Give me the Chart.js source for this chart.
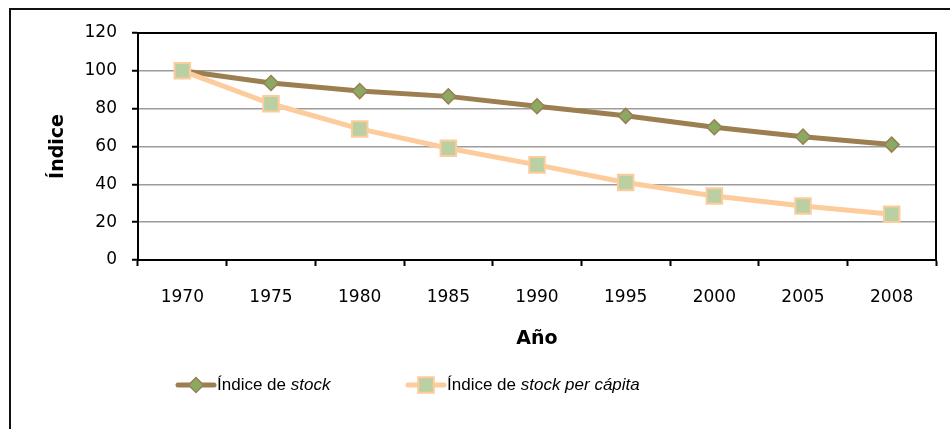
<!DOCTYPE html>
<html>
<head>
<meta charset="utf-8">
<script src="https://cdn.jsdelivr.net/npm/chart.js@4"></script>
<style>
  html, body { margin: 0; padding: 0; background: #fff; }
  #wrap { position: relative; width: 950px; height: 429px; overflow: hidden; }
  #frame { position: absolute; left: 9px; top: 8px; width: 1000px; height: 500px;
           border-left: 2px solid #111; border-top: 2px solid #111; }
  canvas { position: absolute; left: 0; top: 0; }
</style>
</head>
<body>
<div id="wrap">
  <div id="frame"></div>
  <canvas id="grafico" width="950" height="429"></canvas>
</div>
<script>
// años e índices (base 1970 = 100)
var anios = ["1970", "1975", "1980", "1985", "1990", "1995", "2000", "2005", "2008"];
var indiceStock = [100, 93.6, 89.3, 86.5, 81.3, 76.2, 70.2, 65.2, 61];
var indiceStockPerCapita = [100, 82.6, 69.3, 59.1, 50.3, 41, 33.8, 28.5, 24.2];
var ticksY = [0, 20, 40, 60, 80, 100, 120];

// textos de la leyenda: [texto, cursiva]
var leyendaStock = [["Índice de ", false], ["stock", true]];
var leyendaPerCapita = [["Índice de ", false], ["stock per cápita", true]];

var marron = "#9b7f51";
var verde = "#8aa963";
var melocoton = "#fdcc9c";
var verdeClaro = "#bbd0a2";
var fuenteEjes = "'DejaVu Sans', Verdana, sans-serif";

// borde negro arriba y a la derecha del área de trazado
var bordeArea = {
    id: "bordeArea",
    beforeDatasetsDraw: function (chart) {
        var a = chart.chartArea;
        var ctx = chart.ctx;
        ctx.save();
        ctx.strokeStyle = "#000";
        ctx.lineWidth = 2;
        ctx.beginPath();
        ctx.moveTo(a.left, a.top);
        ctx.lineTo(a.right, a.top);
        ctx.lineTo(a.right, a.bottom);
        ctx.stroke();
        ctx.restore();
    }
};

// leyenda con partes en cursiva
var leyenda = {
    id: "leyenda",
    afterDraw: function (chart) {
        var ctx = chart.ctx;
        var items = [leyendaStock, leyendaPerCapita];
        var inicios = [178, 408];
        var y = 385;
        ctx.save();
        items.forEach(function (partes, i) {
            var ds = chart.data.datasets[i];
            var x = inicios[i];
            ctx.strokeStyle = ds.borderColor;
            ctx.lineWidth = 5;
            ctx.lineCap = "round";
            ctx.beginPath();
            ctx.moveTo(x, y);
            ctx.lineTo(x + 36, y);
            ctx.stroke();
            ctx.fillStyle = ds.pointBackgroundColor;
            ctx.strokeStyle = ds.pointBorderColor;
            ctx.lineWidth = ds.pointBorderWidth;
            Chart.helpers.drawPoint(ctx, { pointStyle: ds.pointStyle, radius: ds.pointRadius, borderWidth: ds.pointBorderWidth }, x + 18, y);
            var tx = x + 39;
            ctx.fillStyle = "#000";
            ctx.textBaseline = "middle";
            partes.forEach(function (p) {
                ctx.font = (p[1] ? "italic " : "") + "17px 'Liberation Sans', Arial, sans-serif";
                ctx.fillText(p[0], tx, y);
                tx += ctx.measureText(p[0]).width;
            });
        });
        ctx.restore();
    }
};

var ctx = document.getElementById("grafico").getContext("2d");
var grafico = new Chart(ctx, {
    type: "line",
    data: {
        labels: anios,
        datasets: [{
            label: "Índice de stock",
            data: indiceStock,
            order: 1,
            borderColor: marron,
            borderWidth: 5,
            pointStyle: "rectRot",
            pointRadius: 7.5,
            pointBackgroundColor: verde,
            pointBorderColor: marron,
            pointBorderWidth: 1.5,
            tension: 0
        }, {
            label: "Índice de stock per cápita",
            data: indiceStockPerCapita,
            order: 0,
            borderColor: melocoton,
            borderWidth: 5,
            pointStyle: "rect",
            pointRadius: 11,
            pointBackgroundColor: verdeClaro,
            pointBorderColor: melocoton,
            pointBorderWidth: 2,
            tension: 0
        }]
    },
    options: {
        responsive: false,
        animation: false,
        layout: { padding: { top: 33, right: 14, bottom: 69, left: 0 } },
        plugins: {
            legend: { display: false },
            tooltip: { enabled: false }
        },
        scales: {
            x: {
                offset: true,
                grid: { offset: true, drawOnChartArea: false, tickLength: 6, tickColor: "#000", tickWidth: 2 },
                border: { color: "#000", width: 2 },
                ticks: { color: "#000", padding: 21, maxRotation: 0, font: { family: fuenteEjes, size: 17 } },
                title: { display: true, text: "Año", color: "#000", padding: { bottom: 10 },
                         font: { family: fuenteEjes, size: 19, weight: "bold" } },
                afterFit: function (s) { s.height = 100; }
            },
            y: {
                min: 0,
                max: 120,
                afterBuildTicks: function (s) { s.ticks = ticksY.map(function (v) { return { value: v }; }); },
                grid: { color: "#9c9c9c", lineWidth: 1.5, tickLength: 6, tickColor: "#000", tickWidth: 2 },
                border: { color: "#000", width: 2 },
                ticks: { color: "#000", padding: 15, font: { family: fuenteEjes, size: 17 } },
                title: { display: true, text: "Índice", color: "#000", padding: { top: 47 },
                         font: { family: fuenteEjes, size: 19, weight: "bold" } },
                afterFit: function (s) { s.width = 138; }
            }
        }
    },
    plugins: [bordeArea, leyenda]
});
</script>
</body>
</html>
